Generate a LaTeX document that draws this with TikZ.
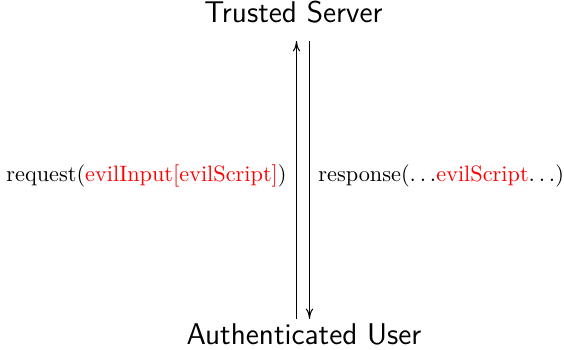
\documentclass[tikz,border=0pt]{standalone}
\usepackage{xcolor}
\usetikzlibrary{arrows.meta}
\begin{document}
\begin{tikzpicture}[x=0.48pt,y=-0.48pt,
  party/.style={font=\Large\sffamily, anchor=base, inner sep=0pt},
  msg/.style={font=\fontsize{10.7}{13}\selectfont, anchor=base, inner sep=0pt},
  flow/.style={-{To[length=5pt,width=3.6pt]}, line width=0.5pt}]
  \useasboundingbox (0,0) rectangle (564,350);
  \node[party] (server) at (293.5,23) {Trusted Server};
  \node[party] (user) at (304,345) {Authenticated User};
  \coordinate (upS) at (296.5,41);
  \coordinate (upE) at (296.5,319);
  \coordinate (dnS) at (309.5,41);
  \coordinate (dnE) at (309.5,319);
  \draw[flow] (upE) -- (upS);
  \draw[flow] (dnS) -- (dnE);
  \node[msg, anchor=base east] (req) at (287,182)
    {request(\textcolor{red}{evilInput[evilScript]})};
  \node[msg, anchor=base west] (resp) at (318,182)
    {response($\ldots$\textcolor{red}{evilScript}$\ldots$)};
\end{tikzpicture}
\end{document}
